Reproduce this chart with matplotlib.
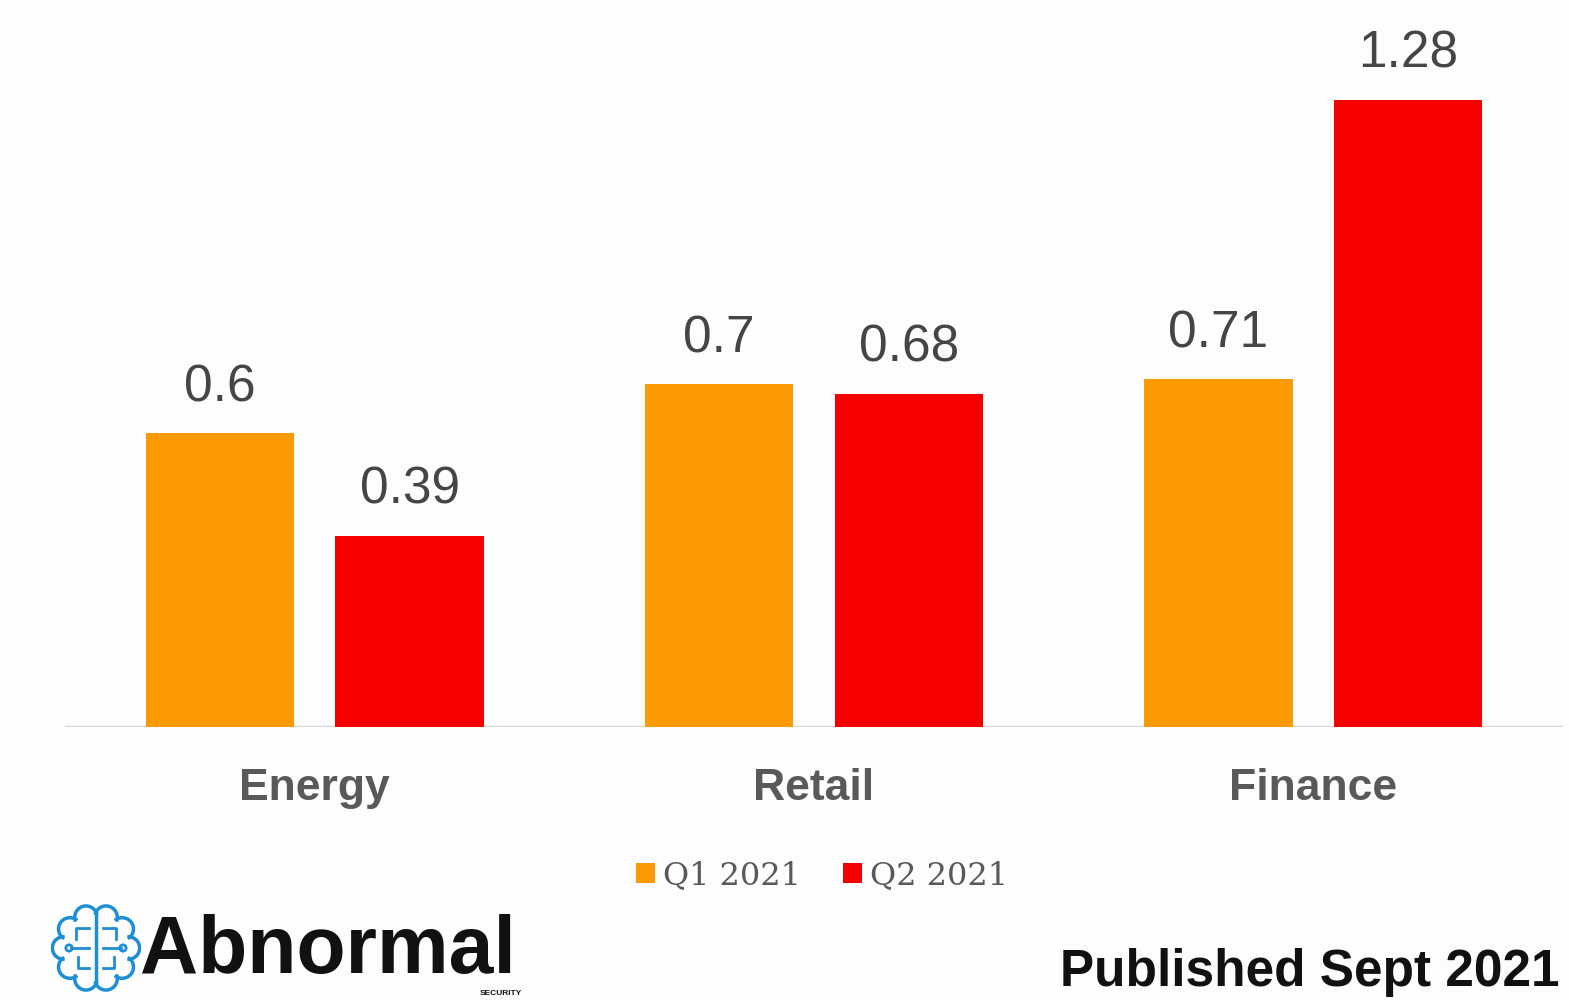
import matplotlib
matplotlib.use("Agg")
import matplotlib.pyplot as plt
import numpy as np
from matplotlib.patches import Circle, Arc

# Dados
categorias = ["Energy", "Retail", "Finance"]
series = ["Q1 2021", "Q2 2021"]
q1 = [0.6, 0.7, 0.71]
q2 = [0.39, 0.68, 1.28]

COR_Q1 = "#FB9A03"
COR_Q2 = "#F70000"
CINZA = "#454545"

plt.rcParams["font.family"] = ["Liberation Sans", "DejaVu Sans"]

W, H = 1569, 1000
fig = plt.figure(figsize=(W / 100, H / 100), dpi=100)
fig.patch.set_facecolor("#fdfdfd")

ax = fig.add_axes([65 / W, 1 - 727 / H, (1563 - 65) / W, 686 / H])
ax.set_facecolor("none")

x = np.arange(len(categorias))
largura = 0.297
desloc = 0.19

b1 = ax.bar(x - desloc, q1, largura, color=COR_Q1, label=series[0], zorder=2)
b2 = ax.bar(x + desloc, q2, largura, color=COR_Q2, label=series[1], zorder=2)

for barras, vals in ((b1, q1), (b2, q2)):
    for bar, v in zip(barras, vals):
        ax.annotate(f"{v:g}", (bar.get_x() + bar.get_width() / 2, v),
                    xytext=(0, 23), textcoords="offset points",
                    ha="center", va="baseline", fontsize=37, color=CINZA)

ax.set_xlim(-0.5, 2.5)
ax.set_ylim(0, 1.4)
ax.axhline(0, color="#d9d9d9", linewidth=2.5, zorder=1)
for s in ax.spines.values():
    s.set_visible(False)
ax.set_xticks([])
ax.set_yticks([])

for xi, cat in zip(x, categorias):
    ax.text(xi, -73 / 490, cat, ha="center", va="baseline", fontsize=32,
            fontweight="bold", color="#595959", clip_on=False)

# Legenda
fig.legend(handles=[b1, b2], labels=series, loc="center",
           bbox_to_anchor=(822 / W, 1 - 876 / H), ncol=2, frameon=False,
           handlelength=0.6, handleheight=0.6, handletextpad=0.25,
           columnspacing=1.3, prop={"family": "DejaVu Serif", "size": 23},
           labelcolor="#595959")

# Logo
fig.text(140 / W, 1 - 973 / H, "Abnormal", fontsize=58, fontweight="bold",
         color="#111111", ha="left", va="baseline")
fig.text(522 / W, 1 - 990 / H, "SECURITY", fontsize=6, fontweight="bold",
         color="#111111", ha="right", va="top")

ic = fig.add_axes([50 / W, 1 - 993 / H, 92 / W, 90 / H])
ic.set_xlim(-1, 1)
ic.set_ylim(-1, 1)
ic.set_aspect("equal")
ic.axis("off")
azul = "#1E8FD5"
for ang in np.linspace(0, 2 * np.pi, 10, endpoint=False):
    ic.add_patch(Arc((0.72 * np.cos(ang), 0.72 * np.sin(ang)), 0.5, 0.5,
                     theta1=np.degrees(ang) - 95, theta2=np.degrees(ang) + 95,
                     color=azul, lw=2.5))
ic.plot([0, 0], [-0.8, 0.8], color=azul, lw=2.5)
for sx in (-1, 1):
    ic.plot([sx * 0.15, sx * 0.45, sx * 0.45], [0.45, 0.45, 0.2], color=azul, lw=2)
    ic.plot([sx * 0.15, sx * 0.55], [0.0, 0.0], color=azul, lw=2)
    ic.plot([sx * 0.15, sx * 0.4, sx * 0.4], [-0.45, -0.45, -0.2], color=azul, lw=2)
    ic.add_patch(Circle((sx * 0.6, 0.0), 0.07, color=azul, fill=False, lw=2))

fig.text(1560 / W, 1 - 986 / H, "Published Sept 2021", fontsize=37,
         fontweight="bold", color="#111111", ha="right", va="baseline")

fig.savefig("out.png", dpi=100, facecolor=fig.get_facecolor())
plt.close(fig)
